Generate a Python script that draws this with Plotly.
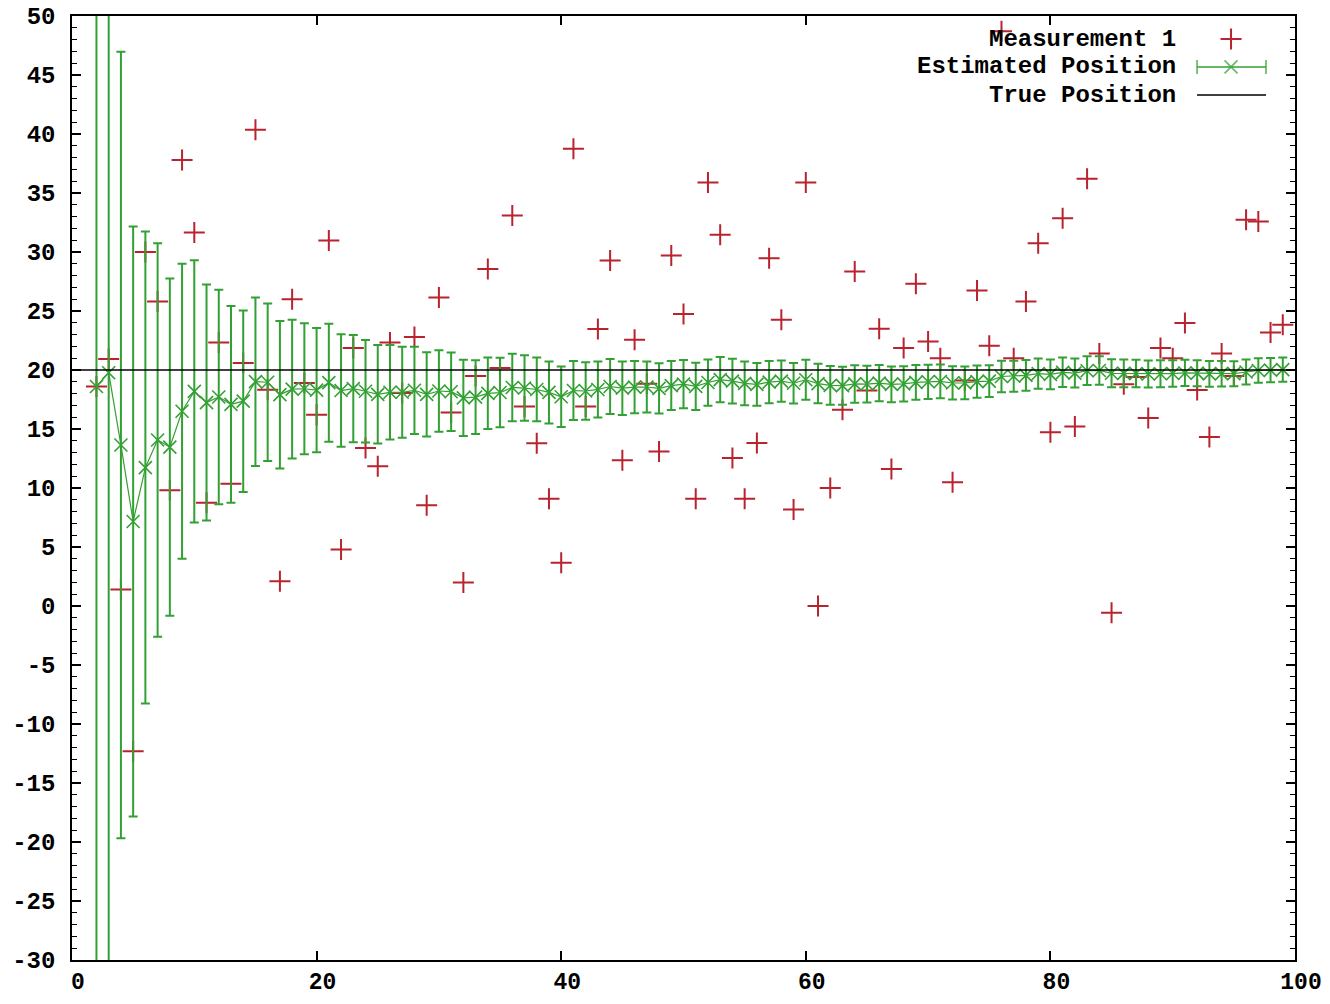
import plotly.graph_objects as go

# ---- data ----
steps = list(range(2, 100))

measurement = [
    18.6, 20.93, 1.4, -12.3, 30.0, 25.8, 9.8, 37.8, 31.65, 8.74,
    22.34, 10.37, 20.6, 40.35, 18.33, 2.1, 26.0, 18.9, 16.2, 30.97,
    4.78, 21.86, 13.4, 11.84, 22.34, 18.05, 22.8, 8.54, 26.15, 16.4,
    2.0, 19.5, 28.55, 20.17, 33.1, 16.9, 13.8, 9.08, 3.66, 38.74,
    16.9, 23.47, 29.28, 12.35, 22.57, 18.84, 13.1, 29.7, 24.74, 9.08,
    35.88, 31.46, 12.55, 9.08, 13.82, 29.48, 24.26, 8.17, 35.88, 0.0,
    10.0, 16.64, 28.35, 18.27, 23.5, 11.6, 21.86, 27.3, 22.42, 21.0,
    10.48, 19.12, 26.74, 22.06, 48.7, 21.0, 25.8, 30.75, 14.72, 32.87,
    15.22, 36.2, 21.4, -0.58, 18.8, 19.4, 15.94, 21.86, 21.0, 23.98,
    18.3, 14.33, 21.4, 19.5, 32.73, 32.58, 23.18, 23.84,
]

estimate = [
    18.6, 19.77, 13.64, 7.16, 11.73, 14.07, 13.46, 16.5, 18.19, 17.24,
    17.71, 17.09, 17.36, 19.01, 18.96, 17.91, 18.38, 18.41, 18.3, 18.93,
    18.26, 18.42, 18.2, 17.94, 18.11, 18.11, 18.28, 17.94, 18.22, 18.16,
    17.64, 17.7, 18.02, 18.09, 18.52, 18.47, 18.35, 18.1, 17.73, 18.26,
    18.22, 18.35, 18.6, 18.46, 18.55, 18.56, 18.44, 18.68, 18.8, 18.61,
    18.94, 19.18, 19.06, 18.87, 18.78, 18.97, 19.06, 18.88, 19.17, 18.85,
    18.7, 18.67, 18.82, 18.81, 18.89, 18.78, 18.82, 18.95, 19.0, 19.03,
    18.9, 18.91, 19.02, 19.06, 19.45, 19.47, 19.55, 19.7, 19.63, 19.8,
    19.74, 19.94, 19.96, 19.72, 19.71, 19.7, 19.66, 19.68, 19.7, 19.75,
    19.73, 19.67, 19.69, 19.69, 19.83, 19.96, 19.99, 20.03,
]

error = [
    100.0, 50.0, 33.33, 25.0, 20.0, 16.67, 14.29, 12.5, 11.11, 10.0,
    9.09, 8.33, 7.69, 7.14, 6.67, 6.25, 5.88, 5.56, 5.26, 5.0,
    4.76, 4.55, 4.35, 4.17, 4.0, 3.85, 3.7, 3.57, 3.45, 3.33,
    3.23, 3.13, 3.03, 2.94, 2.86, 2.78, 2.7, 2.63, 2.56, 2.5,
    2.44, 2.38, 2.33, 2.27, 2.22, 2.17, 2.13, 2.08, 2.04, 2.0,
    1.96, 1.92, 1.89, 1.85, 1.82, 1.79, 1.75, 1.72, 1.69, 1.67,
    1.64, 1.61, 1.59, 1.56, 1.54, 1.52, 1.49, 1.47, 1.45, 1.43,
    1.41, 1.39, 1.37, 1.35, 1.33, 1.32, 1.3, 1.28, 1.27, 1.25,
    1.23, 1.22, 1.2, 1.19, 1.18, 1.16, 1.15, 1.14, 1.12, 1.11,
    1.1, 1.09, 1.08, 1.06, 1.05, 1.04, 1.03, 1.02,
]

true_x = [0, 100]
true_y = [20, 20]

x_ticks = [0, 20, 40, 60, 80, 100]
y_ticks = list(range(-30, 55, 5))

legend_labels = ["Measurement 1", "Estimated Position", "True Position"]

# ---- styles ----
RED = "#b8232e"
GREEN = "#33a033"
FONT = dict(family="Liberation Mono, DejaVu Sans Mono, monospace", size=24, color="black")
XFONT = dict(family="Liberation Mono, DejaVu Sans Mono, monospace", size=23, color="black")

fig = go.Figure()

fig.add_trace(go.Scatter(
    x=steps, y=measurement, mode="markers", name=legend_labels[0],
    marker=dict(symbol="cross-thin", size=15, line=dict(color=RED, width=2), color=RED),
    showlegend=False, cliponaxis=True,
))

fig.add_trace(go.Scatter(
    x=steps, y=estimate, mode="lines+markers", name=legend_labels[1],
    line=dict(color=GREEN, width=1.2),
    marker=dict(symbol="x-thin", size=13, line=dict(color=GREEN, width=1.6), color=GREEN),
    error_y=dict(type="data", array=error, visible=True, color=GREEN, thickness=2, width=4.5),
    showlegend=False,
))

fig.add_trace(go.Scatter(
    x=true_x, y=true_y, mode="lines", name=legend_labels[2],
    line=dict(color="black", width=1.6), showlegend=False,
))

# ---- custom gnuplot-style key (text on the left, sample on the right) ----
key_rows = [0.9756, 0.946, 0.9163]
key_text_x = 0.9045
key_a, key_m, key_b = 0.9199, 0.9477, 0.9763

fig.add_trace(go.Scatter(
    x=[key_m], y=[key_rows[0]], xaxis="x2", yaxis="y2", mode="markers",
    marker=dict(symbol="cross-thin", size=15, line=dict(color=RED, width=2)),
    showlegend=False, hoverinfo="skip",
))
fig.add_trace(go.Scatter(
    x=[key_a, key_m, key_b], y=[key_rows[1]] * 3, xaxis="x2", yaxis="y2",
    mode="lines+markers", line=dict(color=GREEN, width=1.5),
    marker=dict(symbol=["line-ns", "x-thin", "line-ns"], size=[10, 13, 10],
                line=dict(color=GREEN, width=1.8)),
    showlegend=False, hoverinfo="skip",
))
fig.add_trace(go.Scatter(
    x=[key_a, key_b], y=[key_rows[2]] * 2, xaxis="x2", yaxis="y2",
    mode="lines", line=dict(color="black", width=1.6),
    showlegend=False, hoverinfo="skip",
))

for label, ry in zip(legend_labels, key_rows):
    fig.add_annotation(
        x=key_text_x, y=ry, xref="paper", yref="paper", text="<b>%s</b>" % label,
        showarrow=False, xanchor="right", yanchor="middle", font=FONT,
    )

axis_common = dict(
    showline=True, linecolor="black", linewidth=1.5, mirror="allticks",
    ticks="inside", tickcolor="black", tickwidth=1.5, showgrid=False, zeroline=False,
    automargin=False,
)

fig.update_layout(
    width=1330, height=1004,
    margin=dict(l=72, r=35, t=16, b=44),
    paper_bgcolor="white", plot_bgcolor="white",
    xaxis=dict(range=[0, 100], tickvals=x_ticks,
               ticktext=["<b>%d</b>" % v for v in x_ticks], tickfont=XFONT,
               ticklen=9, ticklabelstandoff=0, ticklabelshift=6, **axis_common),
    yaxis=dict(range=[-30, 50], tickvals=y_ticks,
               ticktext=["<b>%d</b>" % v for v in y_ticks], tickfont=FONT,
               ticklen=9, ticklabelstandoff=10,
               minor=dict(dtick=1, ticks="inside", ticklen=5, tickcolor="black", tickwidth=1.2),
               **axis_common),
    xaxis2=dict(range=[0, 1], overlaying="x", visible=False, fixedrange=True),
    yaxis2=dict(range=[0, 1], overlaying="y", visible=False, fixedrange=True),
    showlegend=False,
)

fig.write_html("out.html")
